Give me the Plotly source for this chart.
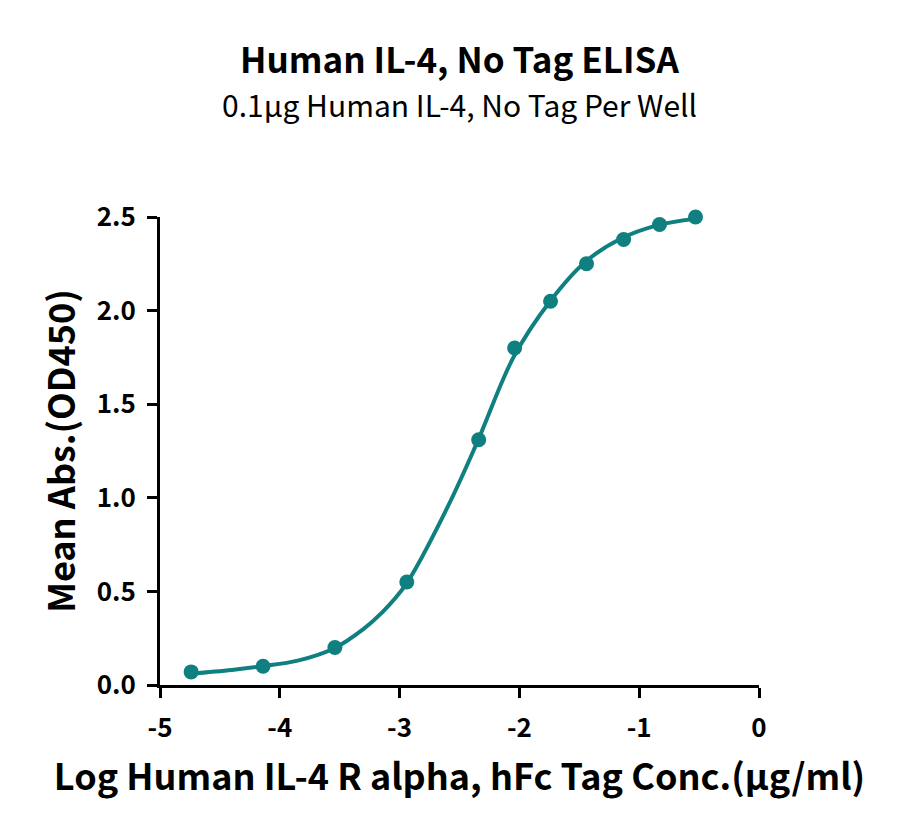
import plotly.graph_objects as go

# Measured data points
log_conc = [-4.74, -4.14, -3.54, -2.94, -2.34, -2.04, -1.74, -1.44, -1.13, -0.83, -0.53]
mean_abs = [0.07, 0.10, 0.20, 0.55, 1.31, 1.80, 2.05, 2.25, 2.38, 2.46, 2.50]

# Fitted curve
curve_x = [-4.75, -4.4, -4.15, -3.85, -3.55, -3.3, -3.15, -2.95, -2.6, -2.35, -2.05, -1.75, -1.45, -1.15, -0.85, -0.53]
curve_y = [0.06, 0.08, 0.10, 0.13, 0.195, 0.30, 0.385, 0.535, 0.95, 1.30, 1.75, 2.045, 2.26, 2.385, 2.455, 2.49]

x_ticks = [-5, -4, -3, -2, -1, 0]
y_ticks = [0.0, 0.5, 1.0, 1.5, 2.0, 2.5]

color = "#0F7F80"
font = "Noto Sans CJK SC"

fig = go.Figure()
fig.add_trace(go.Scatter(x=curve_x, y=curve_y, mode="lines",
                         line=dict(color=color, width=4, shape="spline", smoothing=1.0),
                         hoverinfo="skip", cliponaxis=False))
fig.add_trace(go.Scatter(x=log_conc, y=mean_abs, mode="markers",
                         marker=dict(color=color, size=15), cliponaxis=False))

fig.update_layout(
    width=900, height=840,
    paper_bgcolor="white", plot_bgcolor="white",
    showlegend=False,
    margin=dict(l=152, r=149, t=209, b=163),
    font=dict(family=font, color="black"),
)
fig.add_annotation(text="<b>Human IL-4, No Tag ELISA</b>", xref="paper", yref="paper",
                   x=0.5, y=1.0, yshift=187, showarrow=False,
                   font=dict(family=font, size=35, color="black"))
fig.add_annotation(text="0.1μg Human IL-4, No Tag Per Well", xref="paper", yref="paper",
                   x=0.5, y=1.0, yshift=137, showarrow=False,
                   font=dict(family=font, size=30, color="black"))
fig.update_xaxes(
    range=[-5, 0], tickvals=x_ticks, ticktext=[str(v) for v in x_ticks],
    showline=True, linecolor="black", linewidth=3,
    ticks="outside", ticklen=10, tickwidth=3, tickcolor="black",
    showgrid=False, zeroline=False, ticklabelstandoff=8,
    tickfont=dict(family=font, size=26, color="black", weight="bold"),
    title=dict(text="<b>Log Human IL-4 R alpha, hFc Tag Conc.(μg/ml)</b>",
               font=dict(family=font, size=36, color="black"), standoff=22),
)
fig.update_yaxes(
    range=[0, 2.5], tickvals=y_ticks, ticktext=[f"{v:.1f}" for v in y_ticks],
    showline=True, linecolor="black", linewidth=3,
    ticks="outside", ticklen=10, tickwidth=3, tickcolor="black",
    showgrid=False, zeroline=False, ticklabelstandoff=6,
    tickfont=dict(family=font, size=26, color="black", weight="bold"),
    title=dict(text="<b>Mean Abs.(OD450)</b>",
               font=dict(family=font, size=36, color="black"), standoff=11),
)

fig.write_html("out.html")
